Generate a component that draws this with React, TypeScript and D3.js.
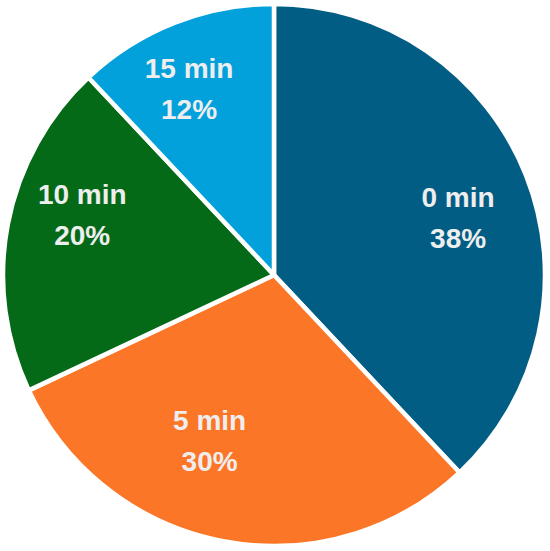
import React from "react";
import * as d3 from "d3";

const categories = ["0 min", "5 min", "10 min", "15 min"];
const values = [38, 30, 20, 12];
const colors = ["#025d85", "#fc7628", "#046a17", "#02a1db"];

// layout tweaks for label placement (angle offset in degrees, radius fraction)
const labelAngleShift = [4.7, 10.3, 6.2, -3.1];
const labelRadiusFrac = [0.71, 0.66, 0.74, 0.75];

const W = 550;
const H = 551;
const cx = 274;
const cy = 275;
const R = 271;

export default function App() {
  const data = categories.map((c, i) => ({ c, v: values[i], i }));
  const pie = d3.pie<any>().value((d) => d.v).sort(null);
  const arcs = pie(data);
  const arc = d3.arc<any>().innerRadius(0).outerRadius(R);
  return (
    <svg width={W} height={H} style={{ position: "absolute", left: 0, top: 0 }}>
      <rect width={W} height={H} fill="#ffffff" />
      <g transform={`translate(${cx},${cy})`}>
        {arcs.map((a, i) => (
          <path key={i} d={arc(a) as string} fill={colors[i]} stroke="#ffffff" strokeWidth={4.5} strokeLinejoin="round" />
        ))}
        {arcs.map((a, i) => {
          const mid = (a.startAngle + a.endAngle) / 2 + (labelAngleShift[i] * Math.PI) / 180;
          const r = R * labelRadiusFrac[i];
          const x = r * Math.sin(mid);
          const y = -r * Math.cos(mid);
          return (
            <text
              key={i}
              x={x}
              y={y}
              textAnchor="middle"
              fill="#eeeeee"
              fontFamily="Liberation Sans, Arial, sans-serif"
              fontWeight="bold"
              fontSize={28}
            >
              <tspan x={x} dy={-12}>{a.data.c}</tspan>
              <tspan x={x} dy={41}>{`${a.data.v}%`}</tspan>
            </text>
          );
        })}
      </g>
    </svg>
  );
}
